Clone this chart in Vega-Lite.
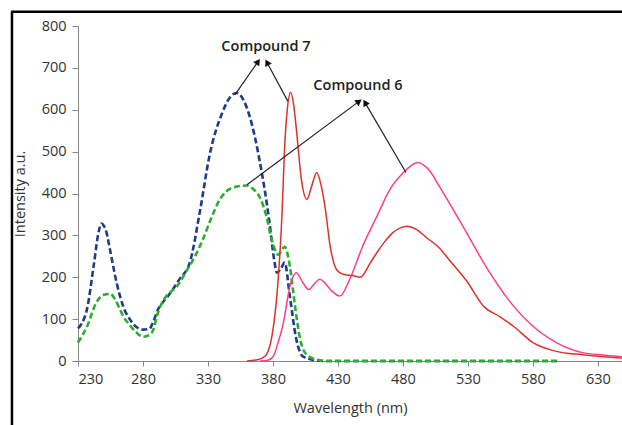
{
  "$schema": "https://vega.github.io/schema/vega-lite/v6.json",
  "width": 544,
  "height": 335,
  "autosize": {"type": "none"},
  "padding": {"left": 78, "top": 26, "right": 0, "bottom": 64},
  "background": "white",
  "config": {
    "view": {"stroke": null},
    "font": "Open Sans",
    "axis": {
      "domainColor": "#868686",
      "tickColor": "#868686",
      "labelColor": "#333333",
      "titleColor": "#333333",
      "labelFontSize": 14.5,
      "titleFontSize": 14.5,
      "titleFontWeight": "normal",
      "grid": false
    }
  },
  "datasets": {
    "spectra": [
      {"series": "Compound 7 excitation", "wl": 230, "I": 78},
      {"series": "Compound 7 excitation", "wl": 233, "I": 90},
      {"series": "Compound 7 excitation", "wl": 237, "I": 125},
      {"series": "Compound 7 excitation", "wl": 242, "I": 226},
      {"series": "Compound 7 excitation", "wl": 246, "I": 310},
      {"series": "Compound 7 excitation", "wl": 248, "I": 328},
      {"series": "Compound 7 excitation", "wl": 250, "I": 322},
      {"series": "Compound 7 excitation", "wl": 252, "I": 306},
      {"series": "Compound 7 excitation", "wl": 254.6, "I": 266},
      {"series": "Compound 7 excitation", "wl": 259.7, "I": 187},
      {"series": "Compound 7 excitation", "wl": 264.8, "I": 130},
      {"series": "Compound 7 excitation", "wl": 270, "I": 99},
      {"series": "Compound 7 excitation", "wl": 275, "I": 81},
      {"series": "Compound 7 excitation", "wl": 280, "I": 75},
      {"series": "Compound 7 excitation", "wl": 285, "I": 77},
      {"series": "Compound 7 excitation", "wl": 287.7, "I": 92},
      {"series": "Compound 7 excitation", "wl": 291.5, "I": 123},
      {"series": "Compound 7 excitation", "wl": 295, "I": 139},
      {"series": "Compound 7 excitation", "wl": 300, "I": 158},
      {"series": "Compound 7 excitation", "wl": 308, "I": 195},
      {"series": "Compound 7 excitation", "wl": 316, "I": 235},
      {"series": "Compound 7 excitation", "wl": 324, "I": 361},
      {"series": "Compound 7 excitation", "wl": 331, "I": 488},
      {"series": "Compound 7 excitation", "wl": 341, "I": 593},
      {"series": "Compound 7 excitation", "wl": 347, "I": 630},
      {"series": "Compound 7 excitation", "wl": 352, "I": 640},
      {"series": "Compound 7 excitation", "wl": 357, "I": 625},
      {"series": "Compound 7 excitation", "wl": 362, "I": 585},
      {"series": "Compound 7 excitation", "wl": 370, "I": 474},
      {"series": "Compound 7 excitation", "wl": 377, "I": 338},
      {"series": "Compound 7 excitation", "wl": 381, "I": 240},
      {"series": "Compound 7 excitation", "wl": 383, "I": 211},
      {"series": "Compound 7 excitation", "wl": 386, "I": 220},
      {"series": "Compound 7 excitation", "wl": 389, "I": 235},
      {"series": "Compound 7 excitation", "wl": 393, "I": 154},
      {"series": "Compound 7 excitation", "wl": 398, "I": 51},
      {"series": "Compound 7 excitation", "wl": 403, "I": 11},
      {"series": "Compound 7 excitation", "wl": 411, "I": 3},
      {"series": "Compound 7 excitation", "wl": 420, "I": 0},
      {"series": "Compound 7 excitation", "wl": 600, "I": 0},

      {"series": "Compound 6 excitation", "wl": 230, "I": 44},
      {"series": "Compound 6 excitation", "wl": 237, "I": 83},
      {"series": "Compound 6 excitation", "wl": 244, "I": 139},
      {"series": "Compound 6 excitation", "wl": 250, "I": 158},
      {"series": "Compound 6 excitation", "wl": 255, "I": 160},
      {"series": "Compound 6 excitation", "wl": 258, "I": 150},
      {"series": "Compound 6 excitation", "wl": 262, "I": 125},
      {"series": "Compound 6 excitation", "wl": 265, "I": 106},
      {"series": "Compound 6 excitation", "wl": 270, "I": 85},
      {"series": "Compound 6 excitation", "wl": 275, "I": 68},
      {"series": "Compound 6 excitation", "wl": 280, "I": 58},
      {"series": "Compound 6 excitation", "wl": 285, "I": 62},
      {"series": "Compound 6 excitation", "wl": 288, "I": 75},
      {"series": "Compound 6 excitation", "wl": 291, "I": 110},
      {"series": "Compound 6 excitation", "wl": 294, "I": 135},
      {"series": "Compound 6 excitation", "wl": 298, "I": 155},
      {"series": "Compound 6 excitation", "wl": 306, "I": 178},
      {"series": "Compound 6 excitation", "wl": 314, "I": 218},
      {"series": "Compound 6 excitation", "wl": 320, "I": 250},
      {"series": "Compound 6 excitation", "wl": 326, "I": 290},
      {"series": "Compound 6 excitation", "wl": 333, "I": 345},
      {"series": "Compound 6 excitation", "wl": 339, "I": 385},
      {"series": "Compound 6 excitation", "wl": 349, "I": 414},
      {"series": "Compound 6 excitation", "wl": 360, "I": 419},
      {"series": "Compound 6 excitation", "wl": 365, "I": 410},
      {"series": "Compound 6 excitation", "wl": 370, "I": 390},
      {"series": "Compound 6 excitation", "wl": 375, "I": 345},
      {"series": "Compound 6 excitation", "wl": 379, "I": 290},
      {"series": "Compound 6 excitation", "wl": 384, "I": 254},
      {"series": "Compound 6 excitation", "wl": 389, "I": 273},
      {"series": "Compound 6 excitation", "wl": 393, "I": 226},
      {"series": "Compound 6 excitation", "wl": 397, "I": 130},
      {"series": "Compound 6 excitation", "wl": 401, "I": 51},
      {"series": "Compound 6 excitation", "wl": 406, "I": 15},
      {"series": "Compound 6 excitation", "wl": 414, "I": 3},
      {"series": "Compound 6 excitation", "wl": 422, "I": 0},
      {"series": "Compound 6 excitation", "wl": 600, "I": 0},

      {"series": "Compound 7 emission", "wl": 360, "I": 0},
      {"series": "Compound 7 emission", "wl": 368, "I": 3},
      {"series": "Compound 7 emission", "wl": 374, "I": 12},
      {"series": "Compound 7 emission", "wl": 380, "I": 75},
      {"series": "Compound 7 emission", "wl": 384, "I": 195},
      {"series": "Compound 7 emission", "wl": 387, "I": 354},
      {"series": "Compound 7 emission", "wl": 389, "I": 513},
      {"series": "Compound 7 emission", "wl": 391, "I": 600},
      {"series": "Compound 7 emission", "wl": 393.6, "I": 641},
      {"series": "Compound 7 emission", "wl": 396, "I": 610},
      {"series": "Compound 7 emission", "wl": 398, "I": 553},
      {"series": "Compound 7 emission", "wl": 402, "I": 430},
      {"series": "Compound 7 emission", "wl": 406, "I": 386},
      {"series": "Compound 7 emission", "wl": 410, "I": 420},
      {"series": "Compound 7 emission", "wl": 413.6, "I": 450},
      {"series": "Compound 7 emission", "wl": 417, "I": 420},
      {"series": "Compound 7 emission", "wl": 420, "I": 369},
      {"series": "Compound 7 emission", "wl": 424, "I": 274},
      {"series": "Compound 7 emission", "wl": 429, "I": 218},
      {"series": "Compound 7 emission", "wl": 434, "I": 207},
      {"series": "Compound 7 emission", "wl": 441, "I": 204},
      {"series": "Compound 7 emission", "wl": 447, "I": 200},
      {"series": "Compound 7 emission", "wl": 455, "I": 235},
      {"series": "Compound 7 emission", "wl": 460, "I": 259},
      {"series": "Compound 7 emission", "wl": 466, "I": 285},
      {"series": "Compound 7 emission", "wl": 472, "I": 306},
      {"series": "Compound 7 emission", "wl": 478, "I": 318},
      {"series": "Compound 7 emission", "wl": 483, "I": 322},
      {"series": "Compound 7 emission", "wl": 490, "I": 315},
      {"series": "Compound 7 emission", "wl": 498, "I": 295},
      {"series": "Compound 7 emission", "wl": 508, "I": 270},
      {"series": "Compound 7 emission", "wl": 516, "I": 240},
      {"series": "Compound 7 emission", "wl": 529, "I": 191},
      {"series": "Compound 7 emission", "wl": 542, "I": 131},
      {"series": "Compound 7 emission", "wl": 555, "I": 105},
      {"series": "Compound 7 emission", "wl": 565, "I": 83},
      {"series": "Compound 7 emission", "wl": 580, "I": 44},
      {"series": "Compound 7 emission", "wl": 598, "I": 23},
      {"series": "Compound 7 emission", "wl": 618, "I": 15},
      {"series": "Compound 7 emission", "wl": 635, "I": 10},
      {"series": "Compound 7 emission", "wl": 648.5, "I": 7},

      {"series": "Compound 6 emission", "wl": 370, "I": 0},
      {"series": "Compound 6 emission", "wl": 376, "I": 2},
      {"series": "Compound 6 emission", "wl": 380, "I": 10},
      {"series": "Compound 6 emission", "wl": 384, "I": 45},
      {"series": "Compound 6 emission", "wl": 388, "I": 91},
      {"series": "Compound 6 emission", "wl": 393, "I": 178},
      {"series": "Compound 6 emission", "wl": 396, "I": 205},
      {"series": "Compound 6 emission", "wl": 398, "I": 211},
      {"series": "Compound 6 emission", "wl": 403, "I": 187},
      {"series": "Compound 6 emission", "wl": 407.5, "I": 171},
      {"series": "Compound 6 emission", "wl": 412, "I": 185},
      {"series": "Compound 6 emission", "wl": 416, "I": 195},
      {"series": "Compound 6 emission", "wl": 420, "I": 186},
      {"series": "Compound 6 emission", "wl": 425, "I": 168},
      {"series": "Compound 6 emission", "wl": 431.5, "I": 155},
      {"series": "Compound 6 emission", "wl": 439, "I": 195},
      {"series": "Compound 6 emission", "wl": 449, "I": 274},
      {"series": "Compound 6 emission", "wl": 460, "I": 346},
      {"series": "Compound 6 emission", "wl": 470, "I": 410},
      {"series": "Compound 6 emission", "wl": 480, "I": 449},
      {"series": "Compound 6 emission", "wl": 486, "I": 466},
      {"series": "Compound 6 emission", "wl": 491.5, "I": 474},
      {"series": "Compound 6 emission", "wl": 496, "I": 468},
      {"series": "Compound 6 emission", "wl": 500.8, "I": 453},
      {"series": "Compound 6 emission", "wl": 508, "I": 417},
      {"series": "Compound 6 emission", "wl": 514, "I": 386},
      {"series": "Compound 6 emission", "wl": 529, "I": 306},
      {"series": "Compound 6 emission", "wl": 542, "I": 235},
      {"series": "Compound 6 emission", "wl": 562, "I": 143},
      {"series": "Compound 6 emission", "wl": 580, "I": 83},
      {"series": "Compound 6 emission", "wl": 598, "I": 44},
      {"series": "Compound 6 emission", "wl": 618, "I": 20},
      {"series": "Compound 6 emission", "wl": 635, "I": 14},
      {"series": "Compound 6 emission", "wl": 648.5, "I": 10}
    ],
    "arrows": [
      {"arrow": "a", "wl": 350.8, "I": 636, "wl2": 368.5, "I2": 715},
      {"arrow": "b", "wl": 391.5, "I": 620, "wl2": 375.4, "I2": 713},
      {"arrow": "c", "wl": 360, "I": 421, "wl2": 446.2, "I2": 620},
      {"arrow": "d", "wl": 482.3, "I": 450, "wl2": 450.8, "I2": 617}
    ],
    "labels": [
      {"text": "Compound 7", "wl": 374.6, "I": 751},
      {"text": "Compound 6", "wl": 445.4, "I": 656}
    ]
  },
  "layer": [
    {
      "data": {"values": [{}]},
      "mark": {"type": "rule", "color": "black", "strokeWidth": 2.5, "clip": false},
      "encoding": {
        "x": {"datum": 179.2, "type": "quantitative"},
        "y": {"datum": 834, "type": "quantitative"},
        "y2": {"datum": -300}
      }
    },
    {
      "data": {"values": [{}]},
      "mark": {"type": "rule", "color": "black", "strokeWidth": 2.5, "clip": false},
      "encoding": {
        "x": {"datum": 178.5, "type": "quantitative"},
        "x2": {"datum": 648.5},
        "y": {"datum": 834, "type": "quantitative"}
      }
    },
    {
      "data": {"name": "spectra"},
      "transform": [{"filter": "indexof(datum.series, 'excitation') >= 0"}],
      "mark": {"type": "line", "interpolate": "monotone", "strokeWidth": 2.6, "strokeDash": [6, 3]},
      "encoding": {
        "x": {
          "field": "wl", "type": "quantitative",
          "scale": {"domain": [230, 648.5], "nice": false, "zero": false},
          "axis": {"title": "Wavelength (nm)", "values": [230, 280, 330, 380, 430, 480, 530, 580, 630], "tickSize": 5, "labelPadding": 6, "titlePadding": 16}
        },
        "y": {
          "field": "I", "type": "quantitative",
          "scale": {"domain": [0, 800], "nice": false},
          "axis": {"title": "Intensity a.u.", "values": [0, 100, 200, 300, 400, 500, 600, 700, 800], "tickSize": 6, "labelPadding": 6, "titlePadding": 14}
        },
        "color": {
          "field": "series", "type": "nominal", "legend": null,
          "scale": {
            "domain": ["Compound 7 excitation", "Compound 6 excitation", "Compound 7 emission", "Compound 6 emission"],
            "range": ["#1F3C88", "#2EAE2E", "#D8342C", "#FF3D8B"]
          }
        },
        "detail": {"field": "series"}
      }
    },
    {
      "data": {"name": "spectra"},
      "transform": [{"filter": "indexof(datum.series, 'emission') >= 0"}],
      "mark": {"type": "line", "interpolate": "monotone", "strokeWidth": 1.5},
      "encoding": {
        "x": {"field": "wl", "type": "quantitative"},
        "y": {"field": "I", "type": "quantitative"},
        "color": {"field": "series", "type": "nominal", "legend": null},
        "detail": {"field": "series"}
      }
    },
    {
      "data": {"name": "arrows"},
      "mark": {"type": "rule", "color": "#222222", "strokeWidth": 1.2},
      "encoding": {
        "x": {"field": "wl", "type": "quantitative"},
        "y": {"field": "I", "type": "quantitative"},
        "x2": {"field": "wl2"},
        "y2": {"field": "I2"}
      }
    },
    {
      "data": {"name": "arrows"},
      "mark": {"type": "point", "shape": "triangle-up", "filled": true, "color": "#111111", "size": 55, "opacity": 1},
      "encoding": {
        "x": {"field": "wl2", "type": "quantitative"},
        "y": {"field": "I2", "type": "quantitative"},
        "angle": {
          "condition": [
            {"test": "datum.arrow === 'a'", "value": 35},
            {"test": "datum.arrow === 'b'", "value": 332},
            {"test": "datum.arrow === 'c'", "value": 53.5}
          ],
          "value": 330
        }
      }
    },
    {
      "data": {"name": "labels"},
      "mark": {"type": "text", "fontSize": 14.5, "fontWeight": 600, "color": "#222222", "align": "center", "baseline": "middle"},
      "encoding": {
        "x": {"field": "wl", "type": "quantitative"},
        "y": {"field": "I", "type": "quantitative"},
        "text": {"field": "text"}
      }
    }
  ]
}
